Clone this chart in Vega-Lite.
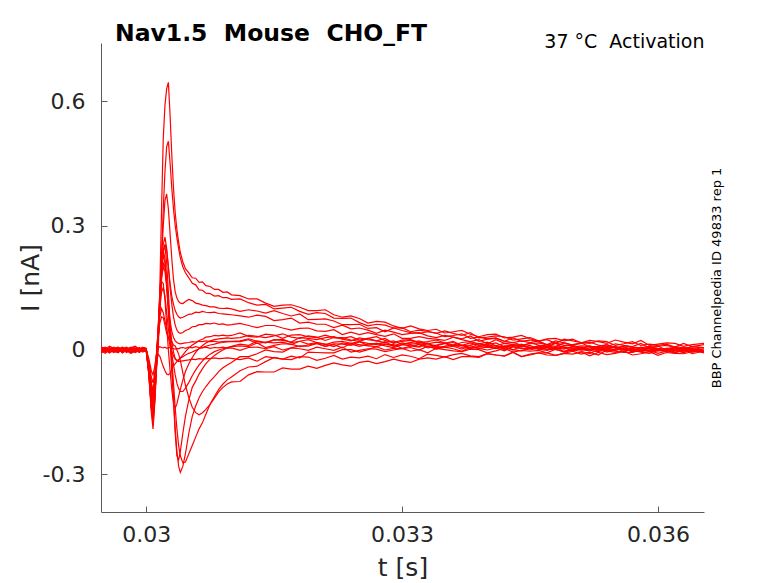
{
  "$schema": "https://vega.github.io/schema/vega-lite/v6.json",
  "width": 603,
  "height": 469,
  "autosize": {"type": "none"},
  "padding": {"left": 101, "top": 43, "right": 74, "bottom": 71},
  "background": "white",
  "config": {"view": {"stroke": null}, "font": "DejaVu Sans"},
  "title": {
    "text": "Nav1.5 \u00a0Mouse \u00a0CHO_FT",
    "anchor": "start",
    "frame": "group",
    "baseline": "alphabetic",
    "offset": 0,
    "dx": 14,
    "dy": 32,
    "fontSize": 23.5,
    "fontWeight": "bold",
    "font": "DejaVu Sans",
    "color": "#000000"
  },
  "data": {
    "values": [
      {"t":0.02947,"a":0.004,"b":-0.006,"c":0.008,"d":0.0,"e":0.002,"f":-0.004,"g":0.005,"h":-0.002,"i":0.003,"j":-0.007,"k":0.006,"l":0.001,"m":-0.003,"n":0.002,"o":-0.005,"p":0.004},
      {"t":0.02952,"a":-0.003,"b":0.002,"c":0.003,"d":-0.005,"e":0.007,"f":0.0,"g":-0.002,"h":-0.008,"i":0.006,"j":-0.001,"k":0.002,"l":-0.004,"m":0.004,"n":-0.002,"o":0.001,"p":0.0},
      {"t":0.02957,"a":0.006,"b":-0.002,"c":-0.001,"d":0.003,"e":0.001,"f":-0.007,"g":0.002,"h":0.0,"i":-0.003,"j":0.004,"k":0.009,"l":-0.001,"m":0.0,"n":0.005,"o":-0.006,"p":0.003},
      {"t":0.02962,"a":0.0,"b":0.005,"c":0.004,"d":-0.002,"e":-0.004,"f":0.002,"g":0.007,"h":-0.004,"i":0.001,"j":-0.003,"k":0.004,"l":0.005,"m":-0.006,"n":0.001,"o":-0.002,"p":-0.005},
      {"t":0.02967,"a":-0.005,"b":0.001,"c":0.007,"d":-0.006,"e":0.003,"f":-0.003,"g":0.0,"h":0.003,"i":0.005,"j":-0.006,"k":0.0,"l":-0.002,"m":0.002,"n":0.006,"o":0.004,"p":-0.001},
      {"t":0.02972,"a":0.003,"b":-0.004,"c":0.0,"d":0.004,"e":0.006,"f":-0.001,"g":-0.003,"h":-0.006,"i":0.002,"j":0.001,"k":0.007,"l":0.002,"m":-0.002,"n":-0.001,"o":-0.007,"p":0.005},
      {"t":0.02977,"a":0.007,"b":0.003,"c":-0.003,"d":0.001,"e":-0.002,"f":0.004,"g":0.005,"h":-0.001,"i":-0.004,"j":-0.002,"k":0.003,"l":-0.006,"m":0.005,"n":0.002,"o":0.0,"p":-0.003},
      {"t":0.02982,"a":-0.002,"b":-0.007,"c":0.005,"d":-0.003,"e":0.004,"f":-0.005,"g":0.002,"h":0.002,"i":0.006,"j":-0.008,"k":0.005,"l":0.0,"m":-0.004,"n":0.007,"o":-0.003,"p":0.001},
      {"t":0.02987,"a":0.001,"b":0.0,"c":0.002,"d":0.005,"e":0.008,"f":0.0,"g":-0.004,"h":-0.005,"i":0.0,"j":-0.003,"k":0.009,"l":0.004,"m":-0.001,"n":-0.002,"o":0.002,"p":-0.006},
      {"t":0.02992,"a":0.005,"b":0.004,"c":-0.002,"d":0.0,"e":0.001,"f":-0.006,"g":0.003,"h":-0.002,"i":0.004,"j":0.002,"k":0.002,"l":-0.003,"m":0.006,"n":0.003,"o":-0.005,"p":0.0},
      {"t":0.02996,"a":-0.001,"b":-0.003,"c":0.006,"d":-0.004,"e":0.005,"f":0.002,"g":0.006,"h":0.001,"i":-0.002,"j":-0.005,"k":0.006,"l":0.0,"m":-0.004,"n":0.001,"o":-0.001,"p":0.003},
      {"t":0.03,"a":0.002,"b":-0.003,"c":0.004,"d":-0.002,"e":0.003,"f":0.0,"g":0.002,"h":-0.002,"i":0.001,"j":0.0,"k":0.003,"l":0.001,"m":-0.001,"n":0.0,"o":0.002,"p":-0.001},
      {"t":0.03003,"a":-0.05,"b":-0.06,"c":-0.05,"d":-0.045,"e":-0.055,"f":-0.04,"g":-0.04,"h":-0.035,"i":-0.05,"j":-0.03,"k":-0.025,"l":-0.03,"m":-0.035,"n":-0.02,"o":-0.045,"p":-0.055},
      {"t":0.03006,"a":-0.14,"b":-0.15,"c":-0.13,"d":-0.12,"e":-0.14,"f":-0.11,"g":-0.1,"h":-0.09,"i":-0.12,"j":-0.08,"k":-0.065,"l":-0.08,"m":-0.09,"n":-0.05,"o":-0.11,"p":-0.14},
      {"t":0.03008,"a":-0.17,"b":-0.19,"c":-0.16,"d":-0.15,"e":-0.18,"f":-0.14,"g":-0.13,"h":-0.12,"i":-0.15,"j":-0.1,"k":-0.08,"l":-0.1,"m":-0.11,"n":-0.06,"o":-0.14,"p":-0.17},
      {"t":0.0301,"a":-0.12,"b":-0.13,"c":-0.11,"d":-0.1,"e":-0.12,"f":-0.09,"g":-0.09,"h":-0.08,"i":-0.1,"j":-0.07,"k":-0.055,"l":-0.07,"m":-0.075,"n":-0.04,"o":-0.095,"p":-0.12},
      {"t":0.03012,"a":-0.04,"b":-0.05,"c":-0.035,"d":-0.03,"e":-0.04,"f":-0.02,"g":-0.02,"h":-0.02,"i":-0.03,"j":-0.015,"k":-0.01,"l":-0.03,"m":-0.02,"n":-0.01,"o":-0.03,"p":-0.04},
      {"t":0.03014,"a":0.01,"b":0.0,"c":0.02,"d":0.03,"e":0.02,"f":0.05,"g":0.05,"h":0.04,"i":0.04,"j":0.05,"k":0.03,"l":-0.01,"m":0.03,"n":0.005,"o":0.04,"p":0.03},
      {"t":0.03016,"a":0.15,"b":0.1,"c":0.12,"d":0.12,"e":0.1,"f":0.14,"g":0.13,"h":0.11,"i":0.13,"j":0.12,"k":0.065,"l":-0.015,"m":0.08,"n":0.008,"o":0.1,"p":0.11},
      {"t":0.03018,"a":0.34,"b":0.23,"c":0.22,"d":0.2,"e":0.18,"f":0.21,"g":0.2,"h":0.17,"i":0.2,"j":0.165,"k":0.08,"l":-0.028,"m":0.1,"n":0.006,"o":0.14,"p":0.18},
      {"t":0.0302,"a":0.51,"b":0.34,"c":0.3,"d":0.255,"e":0.235,"f":0.24,"g":0.23,"h":0.2,"i":0.24,"j":0.16,"k":0.078,"l":-0.04,"m":0.09,"n":0.005,"o":0.15,"p":0.21},
      {"t":0.03022,"a":0.59,"b":0.43,"c":0.36,"d":0.272,"e":0.255,"f":0.22,"g":0.21,"h":0.19,"i":0.25,"j":0.12,"k":0.06,"l":-0.05,"m":0.07,"n":0.007,"o":0.13,"p":0.2},
      {"t":0.03024,"a":0.63,"b":0.49,"c":0.376,"d":0.245,"e":0.24,"f":0.17,"g":0.16,"h":0.15,"i":0.21,"j":0.06,"k":0.04,"l":-0.058,"m":0.05,"n":0.004,"o":0.09,"p":0.16},
      {"t":0.03026,"a":0.645,"b":0.503,"c":0.34,"d":0.2,"e":0.2,"f":0.11,"g":0.09,"h":0.1,"i":0.14,"j":0.0,"k":0.03,"l":-0.06,"m":0.03,"n":0.005,"o":0.05,"p":0.11},
      {"t":0.03028,"a":0.565,"b":0.45,"c":0.28,"d":0.16,"e":0.15,"f":0.06,"g":0.02,"h":0.04,"i":0.06,"j":-0.05,"k":0.025,"l":-0.056,"m":0.01,"n":0.006,"o":0.02,"p":0.07},
      {"t":0.0303,"a":0.47,"b":0.39,"c":0.22,"d":0.13,"e":0.11,"f":0.02,"g":-0.05,"h":-0.02,"i":-0.03,"j":-0.095,"k":0.02,"l":-0.047,"m":-0.01,"n":0.004,"o":-0.002,"p":0.045},
      {"t":0.03032,"a":0.39,"b":0.34,"c":0.17,"d":0.11,"e":0.08,"f":-0.005,"g":-0.12,"h":-0.08,"i":-0.12,"j":-0.13,"k":0.012,"l":-0.038,"m":-0.035,"n":0.003,"o":-0.015,"p":0.03},
      {"t":0.03034,"a":0.33,"b":0.3,"c":0.14,"d":0.095,"e":0.06,"f":-0.02,"g":-0.19,"h":-0.14,"i":-0.2,"j":-0.14,"k":0.01,"l":-0.033,"m":-0.06,"n":0.002,"o":-0.022,"p":0.022},
      {"t":0.03036,"a":0.29,"b":0.27,"c":0.125,"d":0.086,"e":0.048,"f":-0.025,"g":-0.245,"h":-0.19,"i":-0.255,"j":-0.13,"k":0.0,"l":-0.028,"m":-0.08,"n":0.004,"o":-0.026,"p":0.018},
      {"t":0.03038,"a":0.26,"b":0.245,"c":0.117,"d":0.08,"e":0.042,"f":-0.024,"g":-0.28,"h":-0.23,"i":-0.265,"j":-0.112,"k":-0.01,"l":-0.024,"m":-0.093,"n":0.003,"o":-0.028,"p":0.016},
      {"t":0.0304,"a":0.235,"b":0.222,"c":0.113,"d":0.077,"e":0.04,"f":-0.019,"g":-0.295,"h":-0.255,"i":-0.245,"j":-0.095,"k":-0.025,"l":-0.02,"m":-0.1,"n":0.005,"o":-0.027,"p":0.015},
      {"t":0.03043,"a":0.212,"b":0.2,"c":0.112,"d":0.079,"e":0.042,"f":-0.012,"g":-0.28,"h":-0.272,"i":-0.2,"j":-0.072,"k":-0.055,"l":-0.016,"m":-0.1,"n":0.006,"o":-0.026,"p":0.016},
      {"t":0.03046,"a":0.196,"b":0.186,"c":0.117,"d":0.082,"e":0.047,"f":-0.004,"g":-0.25,"h":-0.27,"i":-0.16,"j":-0.052,"k":-0.085,"l":-0.012,"m":-0.092,"n":0.004,"o":-0.025,"p":0.017},
      {"t":0.0305,"a":0.186,"b":0.174,"c":0.122,"d":0.086,"e":0.05,"f":0.005,"g":-0.2,"h":-0.25,"i":-0.12,"j":-0.033,"k":-0.115,"l":-0.008,"m":-0.078,"n":0.007,"o":-0.024,"p":0.018},
      {"t":0.03054,"a":0.174,"b":0.161,"c":0.119,"d":0.087,"e":0.056,"f":0.012,"g":-0.16,"h":-0.23,"i":-0.09,"j":-0.018,"k":-0.138,"l":-0.005,"m":-0.062,"n":0.005,"o":-0.022,"p":0.02},
      {"t":0.03058,"a":0.173,"b":0.157,"c":0.113,"d":0.091,"e":0.057,"f":0.017,"g":-0.135,"h":-0.21,"i":-0.075,"j":-0.006,"k":-0.151,"l":-0.001,"m":-0.048,"n":0.008,"o":-0.023,"p":0.019},
      {"t":0.03062,"a":0.163,"b":0.145,"c":0.111,"d":0.09,"e":0.061,"f":0.023,"g":-0.115,"h":-0.19,"i":-0.058,"j":0.004,"k":-0.156,"l":0.003,"m":-0.036,"n":0.006,"o":-0.021,"p":0.021},
      {"t":0.03066,"a":0.164,"b":0.144,"c":0.108,"d":0.093,"e":0.061,"f":0.026,"g":-0.1,"h":-0.175,"i":-0.045,"j":0.011,"k":-0.151,"l":0.006,"m":-0.026,"n":0.005,"o":-0.022,"p":0.02},
      {"t":0.0307,"a":0.155,"b":0.137,"c":0.107,"d":0.091,"e":0.064,"f":0.031,"g":-0.088,"h":-0.155,"i":-0.033,"j":0.017,"k":-0.143,"l":0.009,"m":-0.018,"n":0.007,"o":-0.02,"p":0.022},
      {"t":0.03075,"a":0.153,"b":0.136,"c":0.104,"d":0.09,"e":0.063,"f":0.032,"g":-0.075,"h":-0.13,"i":-0.022,"j":0.022,"k":-0.131,"l":0.012,"m":-0.01,"n":0.004,"o":-0.021,"p":0.02},
      {"t":0.0308,"a":0.146,"b":0.13,"c":0.104,"d":0.091,"e":0.065,"f":0.035,"g":-0.064,"h":-0.112,"i":-0.013,"j":0.025,"k":-0.116,"l":0.014,"m":-0.004,"n":0.006,"o":-0.019,"p":0.021},
      {"t":0.03085,"a":0.146,"b":0.131,"c":0.101,"d":0.088,"e":0.062,"f":0.034,"g":-0.052,"h":-0.095,"i":-0.006,"j":0.027,"k":-0.101,"l":0.017,"m":0.0,"n":0.005,"o":-0.021,"p":0.019},
      {"t":0.0309,"a":0.139,"b":0.126,"c":0.1,"d":0.087,"e":0.063,"f":0.036,"g":-0.043,"h":-0.082,"i":0.0,"j":0.028,"k":-0.09,"l":0.018,"m":0.003,"n":0.007,"o":-0.02,"p":0.02},
      {"t":0.03095,"a":0.14,"b":0.126,"c":0.101,"d":0.086,"e":0.06,"f":0.034,"g":-0.036,"h":-0.072,"i":0.005,"j":0.029,"k":-0.082,"l":0.02,"m":0.006,"n":0.004,"o":-0.019,"p":0.021},
      {"t":0.031,"a":0.133,"b":0.122,"c":0.099,"d":0.085,"e":0.061,"f":0.035,"g":-0.03,"h":-0.065,"i":0.009,"j":0.028,"k":-0.077,"l":0.021,"m":0.008,"n":0.005,"o":-0.02,"p":0.02},
      {"t":0.0311,"a":0.131,"b":0.123,"c":0.093,"d":0.082,"e":0.064,"f":0.041,"g":-0.016,"h":-0.05,"i":0.014,"j":0.03,"k":-0.076,"l":0.022,"m":0.01,"n":-0.001,"o":-0.023,"p":0.02},
      {"t":0.0312,"a":0.123,"b":0.114,"c":0.097,"d":0.079,"e":0.059,"f":0.033,"g":-0.016,"h":-0.041,"i":0.011,"j":0.035,"k":-0.06,"l":0.027,"m":0.008,"n":0.006,"o":-0.019,"p":0.025},
      {"t":0.0313,"a":0.123,"b":0.108,"c":0.094,"d":0.084,"e":0.054,"f":0.031,"g":-0.009,"h":-0.039,"i":0.022,"j":0.033,"k":-0.052,"l":0.021,"m":0.017,"n":0.007,"o":-0.027,"p":0.016},
      {"t":0.0314,"a":0.113,"b":0.11,"c":0.089,"d":0.081,"e":0.059,"f":0.038,"g":0.0,"h":-0.028,"i":0.018,"j":0.03,"k":-0.053,"l":0.017,"m":0.006,"n":0.003,"o":-0.016,"p":0.019},
      {"t":0.0315,"a":0.105,"b":0.099,"c":0.095,"d":0.071,"e":0.059,"f":0.036,"g":-0.004,"h":-0.018,"i":0.025,"j":0.034,"k":-0.053,"l":0.024,"m":0.011,"n":0.008,"o":-0.019,"p":0.017},
      {"t":0.0316,"a":0.108,"b":0.101,"c":0.088,"d":0.073,"e":0.053,"f":0.028,"g":-0.005,"h":-0.022,"i":0.023,"j":0.039,"k":-0.043,"l":0.026,"m":0.015,"n":0.0,"o":-0.022,"p":0.019},
      {"t":0.0317,"a":0.109,"b":0.103,"c":0.082,"d":0.077,"e":0.048,"f":0.036,"g":0.005,"h":-0.015,"i":0.019,"j":0.031,"k":-0.046,"l":0.018,"m":0.014,"n":0.005,"o":-0.023,"p":0.013},
      {"t":0.0318,"a":0.103,"b":0.093,"c":0.087,"d":0.065,"e":0.052,"f":0.037,"g":0.01,"h":-0.019,"i":0.03,"j":0.028,"k":-0.046,"l":0.021,"m":0.008,"n":0.003,"o":-0.016,"p":0.021},
      {"t":0.0319,"a":0.095,"b":0.086,"c":0.073,"d":0.067,"e":0.053,"f":0.032,"g":0.009,"h":-0.005,"i":0.028,"j":0.034,"k":-0.039,"l":0.025,"m":0.012,"n":-0.001,"o":-0.017,"p":0.014},
      {"t":0.032,"a":0.095,"b":0.09,"c":0.074,"d":0.062,"e":0.046,"f":0.03,"g":0.016,"h":-0.006,"i":0.025,"j":0.031,"k":-0.044,"l":0.018,"m":0.016,"n":0.007,"o":-0.025,"p":0.018},
      {"t":0.0321,"a":0.097,"b":0.088,"c":0.075,"d":0.062,"e":0.045,"f":0.036,"g":0.009,"h":-0.007,"i":0.03,"j":0.023,"k":-0.037,"l":0.013,"m":0.009,"n":0.003,"o":-0.02,"p":0.014},
      {"t":0.0322,"a":0.085,"b":0.077,"c":0.07,"d":0.054,"e":0.049,"f":0.03,"g":0.015,"h":-0.007,"i":0.032,"j":0.03,"k":-0.031,"l":0.019,"m":0.013,"n":-0.001,"o":-0.013,"p":0.008},
      {"t":0.0323,"a":0.079,"b":0.076,"c":0.061,"d":0.06,"e":0.037,"f":0.028,"g":0.014,"h":0.001,"i":0.026,"j":0.03,"k":-0.036,"l":0.021,"m":0.005,"n":0.007,"o":-0.022,"p":0.017},
      {"t":0.0324,"a":0.082,"b":0.077,"c":0.061,"d":0.051,"e":0.043,"f":0.032,"g":0.011,"h":0.001,"i":0.022,"j":0.024,"k":-0.039,"l":0.016,"m":0.016,"n":-0.005,"o":-0.017,"p":0.014},
      {"t":0.0325,"a":0.076,"b":0.066,"c":0.062,"d":0.053,"e":0.037,"f":0.024,"g":0.02,"h":-0.005,"i":0.029,"j":0.021,"k":-0.03,"l":0.02,"m":0.013,"n":-0.001,"o":-0.019,"p":0.009},
      {"t":0.0326,"a":0.065,"b":0.058,"c":0.052,"d":0.048,"e":0.042,"f":0.028,"g":0.016,"h":0.001,"i":0.025,"j":0.028,"k":-0.027,"l":0.011,"m":0.01,"n":0.003,"o":-0.015,"p":0.014},
      {"t":0.0327,"a":0.069,"b":0.062,"c":0.054,"d":0.04,"e":0.037,"f":0.032,"g":0.013,"h":0.008,"i":0.022,"j":0.022,"k":-0.033,"l":0.016,"m":0.008,"n":0.002,"o":-0.021,"p":0.016},
      {"t":0.0328,"a":0.067,"b":0.06,"c":0.044,"d":0.048,"e":0.033,"f":0.023,"g":0.02,"h":0.0,"i":0.028,"j":0.018,"k":-0.028,"l":0.014,"m":0.014,"n":-0.004,"o":-0.011,"p":0.01},
      {"t":0.0329,"a":0.058,"b":0.053,"c":0.053,"d":0.043,"e":0.039,"f":0.018,"g":0.009,"h":0.004,"i":0.016,"j":0.022,"k":-0.022,"l":0.01,"m":0.013,"n":0.0,"o":-0.018,"p":0.006},
      {"t":0.033,"a":0.052,"b":0.054,"c":0.047,"d":0.037,"e":0.028,"f":0.024,"g":0.013,"h":0.003,"i":0.021,"j":0.014,"k":-0.027,"l":0.017,"m":0.004,"n":0.004,"o":-0.012,"p":0.013},
      {"t":0.0331,"a":0.058,"b":0.044,"c":0.042,"d":0.04,"e":0.028,"f":0.025,"g":0.017,"h":0.006,"i":0.023,"j":0.018,"k":-0.03,"l":0.013,"m":0.009,"n":-0.003,"o":-0.015,"p":0.01},
      {"t":0.0332,"a":0.051,"b":0.048,"c":0.04,"d":0.042,"e":0.032,"f":0.018,"g":0.015,"h":0.0,"i":0.017,"j":0.022,"k":-0.022,"l":0.009,"m":0.014,"n":0.001,"o":-0.021,"p":0.007},
      {"t":0.0333,"a":0.047,"b":0.045,"c":0.044,"d":0.034,"e":0.028,"f":0.02,"g":0.009,"h":0.009,"i":0.015,"j":0.015,"k":-0.019,"l":0.017,"m":0.005,"n":-0.007,"o":-0.01,"p":0.015},
      {"t":0.0334,"a":0.05,"b":0.04,"c":0.041,"d":0.03,"e":0.026,"f":0.024,"g":0.012,"h":0.002,"i":0.019,"j":0.01,"k":-0.022,"l":0.005,"m":0.009,"n":0.004,"o":-0.013,"p":0.003},
      {"t":0.0335,"a":0.041,"b":0.046,"c":0.032,"d":0.035,"e":0.023,"f":0.017,"g":0.016,"h":0.007,"i":0.016,"j":0.016,"k":-0.016,"l":0.009,"m":0.006,"n":0.001,"o":-0.017,"p":0.009},
      {"t":0.0336,"a":0.044,"b":0.04,"c":0.035,"d":0.031,"e":0.031,"f":0.012,"g":0.009,"h":0.003,"i":0.021,"j":0.018,"k":-0.023,"l":0.012,"m":0.009,"n":-0.002,"o":-0.011,"p":0.012},
      {"t":0.0337,"a":0.047,"b":0.035,"c":0.039,"d":0.027,"e":0.025,"f":0.018,"g":0.012,"h":-0.003,"i":0.011,"j":0.01,"k":-0.016,"l":0.011,"m":0.002,"n":-0.004,"o":-0.008,"p":0.006},
      {"t":0.0338,"a":0.038,"b":0.042,"c":0.028,"d":0.034,"e":0.02,"f":0.02,"g":0.005,"h":0.007,"i":0.017,"j":0.012,"k":-0.016,"l":0.004,"m":0.011,"n":0.002,"o":-0.014,"p":0.004},
      {"t":0.0339,"a":0.032,"b":0.029,"c":0.031,"d":0.021,"e":0.025,"f":0.015,"g":0.015,"h":0.004,"i":0.011,"j":0.016,"k":-0.018,"l":0.008,"m":0.003,"n":0.001,"o":-0.016,"p":0.008},
      {"t":0.034,"a":0.037,"b":0.031,"c":0.027,"d":0.026,"e":0.015,"f":0.019,"g":0.012,"h":0.0,"i":0.013,"j":0.008,"k":-0.009,"l":0.011,"m":0.008,"n":-0.007,"o":-0.009,"p":0.006},
      {"t":0.0341,"a":0.038,"b":0.034,"c":0.029,"d":0.028,"e":0.025,"f":0.01,"g":0.009,"h":0.005,"i":0.017,"j":0.003,"k":-0.012,"l":0.004,"m":0.005,"n":-0.002,"o":-0.012,"p":0.011},
      {"t":0.0342,"a":0.029,"b":0.032,"c":0.021,"d":0.021,"e":0.016,"f":0.016,"g":0.007,"h":0.008,"i":0.008,"j":0.01,"k":-0.015,"l":0.007,"m":-0.002,"n":0.004,"o":-0.014,"p":0.001},
      {"t":0.0343,"a":0.031,"b":0.024,"c":0.029,"d":0.018,"e":0.018,"f":0.013,"g":0.013,"h":0.001,"i":0.009,"j":0.011,"k":-0.006,"l":0.0,"m":0.008,"n":-0.005,"o":-0.005,"p":0.008},
      {"t":0.0344,"a":0.035,"b":0.027,"c":0.021,"d":0.022,"e":0.012,"f":0.009,"g":0.011,"h":-0.002,"i":0.014,"j":0.007,"k":-0.016,"l":0.01,"m":0.004,"n":-0.001,"o":-0.016,"p":0.003},
      {"t":0.0345,"a":0.027,"b":0.03,"c":0.024,"d":0.018,"e":0.015,"f":0.017,"g":0.003,"h":0.005,"i":0.004,"j":0.011,"k":-0.012,"l":0.007,"m":0.0,"n":-0.003,"o":-0.01,"p":0.005},
      {"t":0.0346,"a":0.021,"b":0.022,"c":0.02,"d":0.022,"e":0.017,"f":0.012,"g":0.007,"h":0.002,"i":0.01,"j":0.002,"k":-0.007,"l":0.004,"m":0.005,"n":-0.001,"o":-0.007,"p":0.01},
      {"t":0.0347,"a":0.027,"b":0.025,"c":0.013,"d":0.012,"e":0.012,"f":0.008,"g":0.013,"h":-0.001,"i":0.008,"j":0.008,"k":-0.007,"l":0.002,"m":0.007,"n":-0.007,"o":-0.012,"p":0.001},
      {"t":0.0348,"a":0.028,"b":0.016,"c":0.022,"d":0.017,"e":0.009,"f":0.016,"g":0.003,"h":0.007,"i":0.005,"j":0.005,"k":-0.013,"l":0.008,"m":0.001,"n":0.002,"o":-0.013,"p":0.002},
      {"t":0.0349,"a":0.022,"b":0.026,"c":0.017,"d":0.011,"e":0.017,"f":0.004,"g":0.007,"h":-0.004,"i":0.01,"j":0.002,"k":-0.008,"l":0.006,"m":-0.003,"n":-0.005,"o":-0.008,"p":0.007},
      {"t":0.035,"a":0.026,"b":0.022,"c":0.012,"d":0.013,"e":0.012,"f":0.007,"g":0.004,"h":0.001,"i":0.011,"j":0.009,"k":-0.003,"l":-0.002,"m":0.004,"n":0.0,"o":-0.01,"p":-0.002},
      {"t":0.0351,"a":0.017,"b":0.018,"c":0.016,"d":0.017,"e":0.004,"f":0.01,"g":0.007,"h":0.004,"i":0.0,"j":0.005,"k":-0.01,"l":0.003,"m":0.001,"n":-0.003,"o":-0.005,"p":0.005},
      {"t":0.0352,"a":0.023,"b":0.016,"c":0.019,"d":0.008,"e":0.01,"f":0.009,"g":0.001,"h":-0.001,"i":0.006,"j":0.001,"k":-0.005,"l":0.009,"m":-0.002,"n":-0.009,"o":-0.014,"p":0.002},
      {"t":0.0353,"a":0.02,"b":0.022,"c":0.012,"d":0.009,"e":0.004,"f":0.002,"g":0.009,"h":-0.004,"i":0.004,"j":0.009,"k":-0.012,"l":-0.001,"m":0.006,"n":0.001,"o":-0.006,"p":0.0},
      {"t":0.0354,"a":0.016,"b":0.02,"c":0.008,"d":0.013,"e":0.013,"f":0.006,"g":0.002,"h":0.001,"i":0.008,"j":-0.002,"k":0.0,"l":0.003,"m":-0.005,"n":-0.002,"o":-0.011,"p":0.005},
      {"t":0.0355,"a":0.024,"b":0.011,"c":0.015,"d":0.004,"e":0.006,"f":0.009,"g":0.007,"h":-0.001,"i":0.006,"j":0.001,"k":-0.003,"l":0.001,"m":0.0,"n":-0.006,"o":-0.008,"p":0.007},
      {"t":0.0356,"a":0.019,"b":0.015,"c":0.011,"d":0.01,"e":0.008,"f":0.002,"g":0.003,"h":0.004,"i":0.001,"j":0.005,"k":-0.006,"l":0.003,"m":0.003,"n":-0.002,"o":-0.003,"p":-0.005},
      {"t":0.0357,"a":0.015,"b":0.02,"c":0.008,"d":0.007,"e":0.0,"f":0.005,"g":-0.003,"h":-0.005,"i":0.006,"j":0.003,"k":-0.006,"l":-0.003,"m":-0.002,"n":0.001,"o":-0.012,"p":0.002},
      {"t":0.0358,"a":0.023,"b":0.011,"c":0.016,"d":0.005,"e":0.002,"f":-0.003,"g":0.007,"h":0.001,"i":0.002,"j":-0.003,"k":0.0,"l":0.006,"m":-0.004,"n":-0.005,"o":-0.009,"p":0.0},
      {"t":0.0359,"a":0.011,"b":0.014,"c":0.004,"d":0.009,"e":0.006,"f":0.008,"g":0.003,"h":-0.004,"i":0.006,"j":0.0,"k":0.0,"l":-0.002,"m":0.0,"n":-0.008,"o":-0.004,"p":0.005},
      {"t":0.036,"a":0.014,"b":0.011,"c":0.009,"d":0.01,"e":0.002,"f":0.004,"g":-0.001,"h":-0.001,"i":0.0,"j":0.004,"k":-0.008,"l":0.003,"m":-0.002,"n":-0.001,"o":-0.013,"p":0.003},
      {"t":0.0361,"a":0.017,"b":0.014,"c":0.011,"d":-0.001,"e":0.0,"f":0.001,"g":0.004,"h":0.004,"i":-0.003,"j":-0.003,"k":-0.003,"l":-0.001,"m":0.003,"n":-0.004,"o":-0.006,"p":-0.002},
      {"t":0.0362,"a":0.016,"b":0.007,"c":0.006,"d":0.006,"e":0.008,"f":-0.001,"g":0.006,"h":-0.005,"i":0.003,"j":0.0,"k":0.003,"l":-0.007,"m":-0.006,"n":-0.006,"o":-0.008,"p":0.003},
      {"t":0.0363,"a":0.009,"b":0.016,"c":0.003,"d":0.003,"e":0.005,"f":0.005,"g":0.0,"h":-0.003,"i":0.006,"j":-0.007,"k":-0.005,"l":0.002,"m":0.0,"n":0.002,"o":-0.009,"p":-0.001},
      {"t":0.0364,"a":0.013,"b":0.008,"c":0.008,"d":0.008,"e":0.001,"f":0.003,"g":-0.004,"h":0.002,"i":0.003,"j":0.003,"k":-0.001,"l":-0.001,"m":-0.005,"n":-0.009,"o":-0.004,"p":0.004},
      {"t":0.03654,"a":0.016,"b":0.013,"c":0.005,"d":0.006,"e":0.006,"f":-0.005,"g":0.003,"h":-0.007,"i":-0.002,"j":0.0,"k":-0.003,"l":-0.006,"m":-0.002,"n":-0.003,"o":-0.002,"p":-0.002}
    ]
  },
  "transform": [
    {"fold": ["a", "b", "c", "d", "e", "f", "g", "h", "i", "j", "k", "l", "m", "n", "o", "p"], "as": ["trace", "I"]}
  ],
  "layer": [
    {
      "mark": {"type": "line", "color": "#ff0000", "strokeWidth": 1.2, "clip": true},
      "encoding": {
        "x": {
          "field": "t",
          "type": "quantitative",
          "scale": {"domain": [0.02947, 0.03654], "nice": false, "zero": false},
          "axis": {
            "orient": "bottom",
            "values": [0.03, 0.033, 0.036],
            "format": ".3~f",
            "grid": false,
            "domainColor": "#5a5a5a",
            "tickColor": "#5a5a5a",
            "tickSize": -6,
            "labelPadding": 18,
            "labelFontSize": 22,
            "labelColor": "#262626",
            "labelFont": "DejaVu Sans",
            "title": "t [s]",
            "titleFont": "DejaVu Sans",
            "titleFontSize": 25,
            "titleFontWeight": "normal",
            "titleColor": "#262626",
            "titleX": 301.5,
            "titleY": 55,
            "titleAlign": "center",
            "titleBaseline": "middle"
          }
        },
        "y": {
          "field": "I",
          "type": "quantitative",
          "scale": {"domain": [-0.3904, 0.7398], "nice": false, "zero": false},
          "axis": {
            "orient": "left",
            "values": [-0.3, 0, 0.3, 0.6],
            "labelExpr": "datum.value == 0 ? '0' : replace(format(datum.value, '.1f'), '\u2212', '-')",
            "grid": false,
            "domainColor": "#5a5a5a",
            "tickColor": "#5a5a5a",
            "tickSize": -6,
            "labelPadding": 22,
            "labelFontSize": 22,
            "labelColor": "#262626",
            "labelFont": "DejaVu Sans",
            "title": "I [nA]",
            "titleFont": "DejaVu Sans",
            "titleFontSize": 25,
            "titleFontWeight": "normal",
            "titleColor": "#262626",
            "titleAngle": 270,
            "titleX": -71,
            "titleY": 234.5,
            "titleAlign": "center",
            "titleBaseline": "middle"
          }
        },
        "detail": {"field": "trace"}
      }
    },
    {
      "mark": {"type": "line", "opacity": 0},
      "encoding": {
        "x": {
          "field": "t",
          "type": "quantitative",
          "axis": {
            "orient": "top",
            "domain": false,
            "ticks": false,
            "labels": false,
            "grid": false,
            "title": "37 °C \u00a0Activation",
            "titleFont": "DejaVu Sans",
            "titleFontSize": 19,
            "titleFontWeight": "normal",
            "titleColor": "#000000",
            "titleX": 603,
            "titleY": 4,
            "titleAlign": "right",
            "titleBaseline": "alphabetic"
          }
        },
        "y": {
          "field": "I",
          "type": "quantitative",
          "axis": {
            "orient": "right",
            "domain": false,
            "ticks": false,
            "labels": false,
            "grid": false,
            "title": "BBP Channelpedia ID 49833 rep 1",
            "titleFont": "DejaVu Sans",
            "titleFontSize": 13,
            "titleFontWeight": "normal",
            "titleColor": "#000000",
            "titleAngle": 270,
            "titleX": 12,
            "titleY": 234.5,
            "titleAlign": "center",
            "titleBaseline": "middle"
          }
        },
        "detail": {"field": "trace"}
      }
    }
  ],
  "resolve": {"axis": {"x": "independent", "y": "independent"}}
}
